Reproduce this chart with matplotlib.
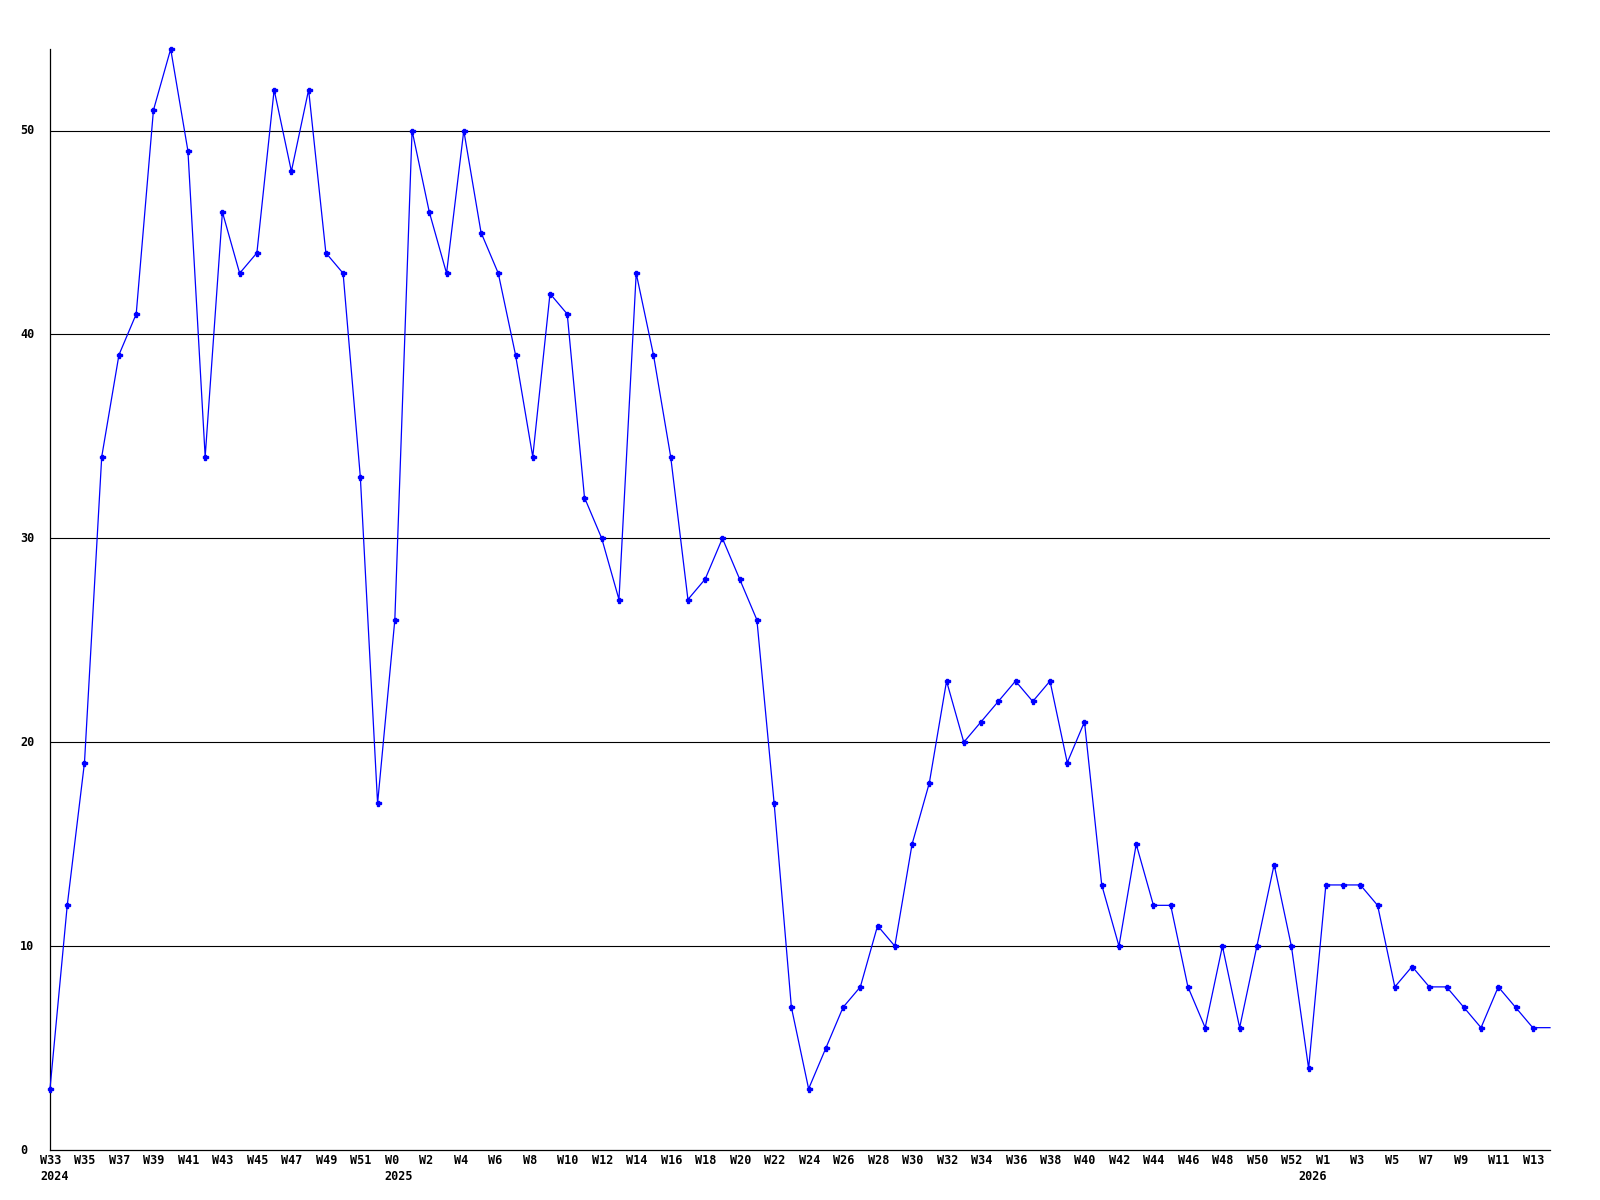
import matplotlib
matplotlib.use("Agg")
import matplotlib.pyplot as plt
from matplotlib.transforms import offset_copy, blended_transform_factory

# ---- data -------------------------------------------------------------
years = ["2024", "2025", "2026"]
weeks_2024 = list(range(33, 53))   # W33 .. W52
weeks_2025 = list(range(0, 53))    # W0 .. W52
weeks_2026 = list(range(0, 15))    # W0 .. W14

values = [
    3, 12, 19, 34, 39, 41, 51, 54, 49, 34, 46, 43, 44, 52, 48, 52, 44, 43, 33, 17,   # 2024
    26, 50, 46, 43, 50, 45, 43, 39, 34, 42, 41, 32, 30, 27, 43, 39, 34, 27, 28, 30,  # 2025 W0-W19
    28, 26, 17, 7, 3, 5, 7, 8, 11, 10, 15, 18, 23, 20, 21, 22, 23, 22, 23, 19,       # 2025 W20-W39
    21, 13, 10, 15, 12, 12, 8, 6, 10, 6, 10, 14, 10,                                 # 2025 W40-W52
    4, 13, 13, 13, 12, 8, 9, 8, 8, 7, 6, 8, 7, 6, 6,                                 # 2026 W0-W14
]
y_ticks = [0, 10, 20, 30, 40, 50]

# ---- derived categories -------------------------------------------------
week_labels = [f"W{w}" for w in weeks_2024 + weeks_2025 + weeks_2026]
year_start = [0, len(weeks_2024), len(weeks_2024) + len(weeks_2025)]
idx = list(range(len(values)))

# ---- figure -------------------------------------------------------------
W, H, DPI = 1600, 1200, 100
fig = plt.figure(figsize=(W / DPI, H / DPI), dpi=DPI)
left, right, top, bottom = 50, 1550, 49, 1150
ax = fig.add_axes([left / W, 1 - bottom / H, (right - left) / W, (bottom - top) / H])

font = dict(family="DejaVu Sans Mono", weight="bold", size=8.5, color="black")

# grid lines
for t in y_ticks[1:]:
    ax.axhline(t, color="black", lw=0.8, zorder=1)

ax.plot(idx, values, color="#0000ff", lw=0.9, marker="P", ms=3.6,
        mec="#0000ff", mfc="#0000ff", markevery=list(range(len(values) - 1)),
        clip_on=False, zorder=3)

ax.set_xlim(0, len(values) - 1)
ax.set_ylim(0, max(values))
ax.set_xticks([])
ax.set_yticks([])
for s in ("top", "right"):
    ax.spines[s].set_visible(False)
for s in ("left", "bottom"):
    ax.spines[s].set_color("black")
    ax.spines[s].set_linewidth(0.9)

# x labels (every 2nd week), left-anchored a little left of the point
tr_w = offset_copy(ax.get_xaxis_transform(), fig=fig, x=-10, y=-11, units="dots")
for i in range(0, len(values), 2):
    ax.text(i, 0, week_labels[i], transform=tr_w, ha="left", va="center", **font)

# year labels
tr_y = offset_copy(ax.get_xaxis_transform(), fig=fig, x=-10, y=-27, units="dots")
for yr, i in zip(years, year_start):
    ax.text(i, 0, yr, transform=tr_y, ha="left", va="center", **font)

# y labels
tr_v = blended_transform_factory(fig.transFigure, ax.transData)
for t in y_ticks:
    ax.text(20 / W, t, str(t), transform=tr_v, ha="left", va="center", **font)

fig.savefig("out.png", dpi=DPI, facecolor="white")
